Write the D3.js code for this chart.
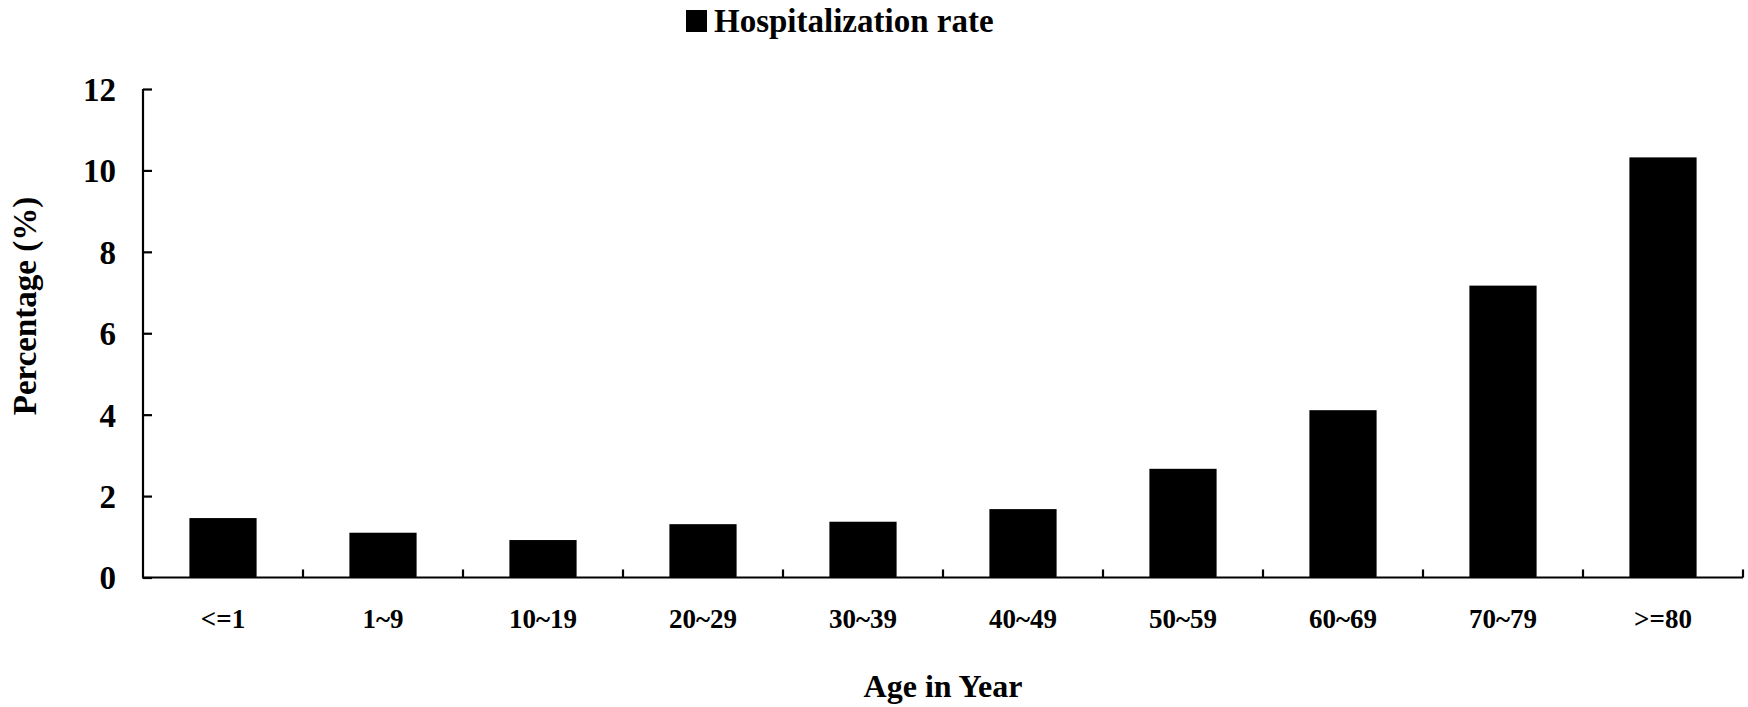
<!DOCTYPE html>
<html>
<head>
<meta charset="utf-8">
<script src="https://cdn.jsdelivr.net/npm/d3@7"></script>
<style>
  html, body { margin: 0; padding: 0; background: #ffffff; }
  svg { display: block; }
  text { font-family: "Liberation Serif", "Times New Roman", serif; font-weight: bold; fill: #000; }
</style>
</head>
<body>
<svg id="chart" width="1748" height="707"></svg>
<script>
const categories = ["<=1", "1~9", "10~19", "20~29", "30~39", "40~49", "50~59", "60~69", "70~79", ">=80"];
const hospitalizationRate = [1.46, 1.10, 0.92, 1.31, 1.37, 1.68, 2.67, 4.11, 7.17, 10.32];
const yTicks = [0, 2, 4, 6, 8, 10, 12];
const seriesName = "Hospitalization rate";
const xTitle = "Age in Year";
const yTitle = "Percentage (%)";

const svg = d3.select("#chart");
const margin = { left: 143, right: 5, top: 89, bottom: 130 };
const W = 1748, H = 707;
const x0 = margin.left, x1 = W - margin.right, y0 = H - margin.bottom, y1 = margin.top;

const x = d3.scaleBand().domain(categories).range([x0, x1]).paddingInner(0.58).paddingOuter(0.29);
const y = d3.scaleLinear().domain([0, 12]).range([y0 + 0.5, y1]);

// bars
svg.append("g").selectAll("rect").data(hospitalizationRate).join("rect")
  .attr("x", (d, i) => x(categories[i]))
  .attr("width", x.bandwidth())
  .attr("y", d => y(d))
  .attr("height", d => y(0) - y(d))
  .attr("fill", "#000");

// y axis
const yAxis = d3.axisRight(y).tickValues(yTicks).tickSize(9).tickFormat("");
const gy = svg.append("g").attr("transform", `translate(${x0},0)`).call(yAxis);
gy.select(".domain").attr("d", `M0,${y(12)}V${y(0)}`).attr("stroke", "#000").attr("stroke-width", 2.2);
gy.selectAll(".tick line").attr("stroke", "#000").attr("stroke-width", 2.2);

svg.append("g").selectAll("text").data(yTicks).join("text")
  .attr("x", 116).attr("y", d => y(d)).attr("dy", "0.36em")
  .attr("text-anchor", "end").attr("font-size", 33)
  .text(d => d);

// x axis
const step = x.step();
const boundaries = categories.map((c, i) => x0 + step * (i + 1));
const gx = svg.append("g");
gx.append("line").attr("x1", x0 - 1).attr("x2", x1).attr("y1", y(0)).attr("y2", y(0))
  .attr("stroke", "#000").attr("stroke-width", 2.2);
gx.selectAll("line.tk").data(boundaries).join("line").attr("class", "tk")
  .attr("x1", d => d).attr("x2", d => d).attr("y1", y(0)).attr("y2", y(0) - 8)
  .attr("stroke", "#000").attr("stroke-width", 2.2);

svg.append("g").selectAll("text").data(categories).join("text")
  .attr("x", d => x(d) + x.bandwidth() / 2).attr("y", 628)
  .attr("text-anchor", "middle").attr("font-size", 27)
  .text(d => d);

// axis titles
svg.append("text").attr("x", (x0 + x1) / 2).attr("y", 697)
  .attr("text-anchor", "middle").attr("font-size", 32).text(xTitle);
svg.append("text").attr("transform", "translate(36,306) rotate(-90)")
  .attr("text-anchor", "middle").attr("font-size", 33).text(yTitle);

// legend
svg.append("rect").attr("x", 686).attr("y", 10).attr("width", 21).attr("height", 22).attr("fill", "#000");
svg.append("text").attr("x", 714).attr("y", 32).attr("font-size", 33).text(seriesName);
</script>
</body>
</html>
